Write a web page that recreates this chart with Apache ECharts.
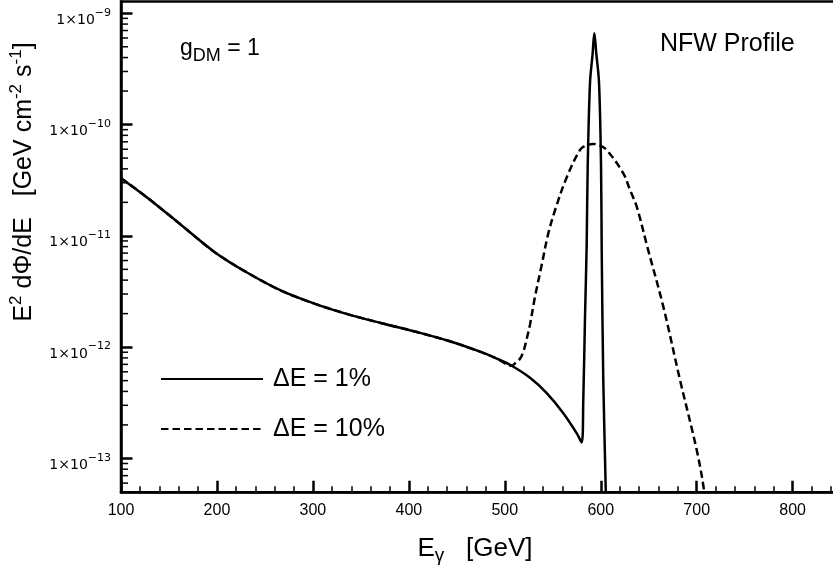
<!DOCTYPE html>
<html>
<head>
<meta charset="utf-8">
<script src="https://cdn.jsdelivr.net/npm/echarts@6/dist/echarts.min.js"></script>
<style>
html,body{margin:0;padding:0;background:#fff}
#main{width:833px;height:569px}
</style>
</head>
<body>
<div id="main"></div>
<script>
// ΔE = 1% (solid) : energy [GeV] and E^2 dPhi/dE
var solidE = [100, 128.5, 163.3, 198, 232.7, 267.5, 302.2, 336.9, 371.7, 406.4, 441.1, 474.2, 491.6, 507.2, 526.3, 543.7, 561, 575, 580.1,
	581.8, 583.6, 585.3, 586.4, 588.8, 591.5, 593.3, 595.3, 598.2, 600.3, 601.0, 602.7, 605.2, 606.5];
var solidFlux = [3.30e-11, 2.17e-11, 1.24e-11, 7.1e-12, 4.61e-12, 3.2e-12, 2.45e-12, 1.97e-12, 1.64e-12, 1.38e-12, 1.14e-12, 9.1e-13, 7.9e-13, 6.8e-13, 5.3e-13, 3.86e-13, 2.55e-13, 1.68e-13, 1.39e-13,
	3.36e-13, 1.88e-12, 8.0e-12, 4.19e-11, 2.37e-10, 4.3e-10, 6.6e-10, 4.4e-10, 2.37e-10, 4.19e-11, 7.5e-12, 4.7e-13, 5.2e-14, 1e-14];
// ΔE = 10% (dashed)
var dashE = [100, 128.5, 163.3, 198, 232.7, 267.5, 302.2, 336.9, 371.7, 406.4, 441.1, 474.2, 491.6, 507.2, 511, 516, 519.5, 523, 526.3,
	531.5, 538.5, 545.3, 552.8, 564.5, 578.4, 585, 592.3, 599, 606.2, 623.5, 630.5, 637.5, 648.7, 665.2, 682.6, 700, 707.6, 710];
var dashFlux = [3.30e-11, 2.17e-11, 1.24e-11, 7.1e-12, 4.61e-12, 3.2e-12, 2.45e-12, 1.97e-12, 1.64e-12, 1.38e-12, 1.14e-12, 9.1e-13, 7.9e-13, 6.8e-13, 7.2e-13, 7.9e-13, 9.2e-13, 1.2e-12, 1.6e-12,
	2.84e-12, 5.5e-12, 1.05e-11, 1.75e-11, 3.35e-11, 5.92e-11, 6.5e-11, 6.7e-11, 6.5e-11, 5.92e-11, 3.65e-11, 2.58e-11, 1.83e-11, 7.87e-12, 2.31e-12, 5.07e-13, 1.19e-13, 5.2e-14, 3e-14];

var legendNames = ['ΔE = 1%', 'ΔE = 10%'];
var xMin = 100, xMax = 900;
var yMin = 4.96e-14, yMax = 1.276e-9;
// log minor ticks : mult x 10^decade
var decades = [-14, -13, -12, -11, -10];
var minorMult = [2, 3, 4, 5, 6, 7, 8, 9];

var chart = echarts.init(document.getElementById('main'));

function pairs(xs, ys){
	var out = [];
	for (var i = 0; i < xs.length; i++) out.push([xs[i], ys[i]]);
	return out;
}
var minorData = [];
for (var d = 0; d < decades.length; d++) {
	for (var m = 0; m < minorMult.length; m++) {
		var v = minorMult[m] * Math.pow(10, decades[d]);
		if (v > yMin * 1.02 && v < yMax) minorData.push([xMin, v]);
	}
}

var font = 'Liberation Sans';
var option = {
	animation: false,
	backgroundColor: '#fff',
	grid: {left: 121, top: 1.5, right: -55.6, bottom: 76.7, outerBoundsMode: 'none', containLabel: false,
		show: true, borderColor: '#000', borderWidth: 2.5},
	legend: {
		orient: 'vertical', left: 155, top: 361, itemWidth: 102, itemHeight: 14, itemGap: 24,
		data: legendNames, selectedMode: false,
		itemStyle: {opacity: 0},
		textStyle: {fontFamily: font, fontSize: 25, color: '#000', lineHeight: 26, padding: [0, 0, 0, 5]}
	},
	xAxis: {
		type: 'value', min: xMin, max: xMax, interval: 100,
		axisLine: {lineStyle: {color: '#000', width: 2.5}},
		axisTick: {inside: true, length: 11.5, lineStyle: {color: '#000', width: 2.5}},
		minorTick: {show: true, splitNumber: 5, length: 6, lineStyle: {color: '#000', width: 1.5}},
		splitLine: {show: false},
		axisLabel: {margin: 10, fontFamily: font, fontSize: 16, color: '#000'}
	},
	yAxis: {
		type: 'log', logBase: 10, min: yMin, max: yMax,
		axisLine: {lineStyle: {color: '#000', width: 2.5}},
		axisTick: {inside: true, length: 11.5, lineStyle: {color: '#000', width: 2.5}},
		splitLine: {show: false},
		axisLabel: {
			margin: 10, showMinLabel: false, showMaxLabel: false, padding: [8, 0, 0, 0],
			formatter: function(v){
				var n = Math.round(Math.log10(v));
				return '{b|1×10}{s|−' + (-n) + '}';
			},
			rich: {
				b: {fontFamily: 'DejaVu Sans', fontSize: 14, color: '#000', lineHeight: 20, verticalAlign: 'bottom'},
				s: {fontFamily: 'DejaVu Sans', fontSize: 11, color: '#000', lineHeight: 12, verticalAlign: 'top'}
			}
		}
	},
	series: [
		{
			name: legendNames[0], type: 'line', data: pairs(solidE, solidFlux),
			symbol: 'none', showSymbol: false, smooth: 0.35, z: 3,
			itemStyle: {color: '#000'},
			lineStyle: {color: '#000', width: 2.5}
		},
		{
			name: legendNames[1], type: 'line', data: pairs(dashE, dashFlux),
			symbol: 'none', showSymbol: false, smooth: 0.35, z: 4,
			itemStyle: {color: '#000'},
			lineStyle: {color: '#000', width: 2.5, type: [7.5, 4]}
		},
		{
			// y minor ticks (log spaced)
			type: 'custom', silent: true, z: 6, data: minorData,
			renderItem: function(params, api){
				var p = api.coord([api.value(0), api.value(1)]);
				return {type: 'line', shape: {x1: p[0], y1: p[1], x2: p[0] + 7, y2: p[1]},
					style: {stroke: '#000', lineWidth: 1.5}};
			}
		}
	],
	graphic: [
		{
			type: 'text', x: 180, y: 49,
			style: {
				text: '{g|g}{d|DM}{g| = 1}', verticalAlign: 'middle',
				rich: {
					g: {fontFamily: font, fontSize: 23, color: '#000', lineHeight: 32, verticalAlign: 'middle'},
					d: {fontFamily: font, fontSize: 18, color: '#000', lineHeight: 18, verticalAlign: 'bottom'}
				}
			}
		},
		{
			type: 'text', x: 660, y: 44.5,
			style: {text: 'NFW Profile', fontFamily: font, fontSize: 25, fill: '#000', verticalAlign: 'middle'}
		},
		{
			type: 'text', x: 475, y: 549,
			style: {
				text: '{e|E}{g|γ}{e|   [GeV]}', align: 'center', verticalAlign: 'middle',
				rich: {
					e: {fontFamily: font, fontSize: 26, color: '#000', lineHeight: 32, verticalAlign: 'middle'},
					g: {fontFamily: font, fontSize: 19, color: '#000', lineHeight: 18, verticalAlign: 'bottom'}
				}
			}
		},
		{
			type: 'text', x: 24, y: 182, rotation: Math.PI / 2,
			style: {
				text: '{e|E}{s|2}{e| dΦ/dE   [GeV cm}{s|-2}{e| s}{s|-1}{e|]}', align: 'center', verticalAlign: 'middle',
				rich: {
					e: {fontFamily: font, fontSize: 25, color: '#000', lineHeight: 32, verticalAlign: 'middle'},
					s: {fontFamily: font, fontSize: 17, color: '#000', lineHeight: 15, verticalAlign: 'top'}
				}
			}
		}
	]
};
chart.setOption(option);
</script>
</body>
</html>
